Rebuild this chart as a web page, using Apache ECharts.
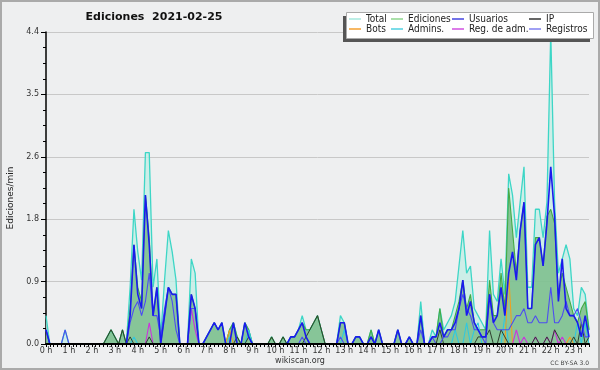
<!DOCTYPE html>
<html>
<head>
<meta charset="utf-8">
<title>Ediciones 2021-02-25</title>
<script src="https://cdn.jsdelivr.net/npm/echarts@6/dist/echarts.min.js"></script>
<style>
html, body { margin: 0; padding: 0; background: #eeeff0; }
#chart { width: 600px; height: 370px; }
</style>
</head>
<body>
<div id="chart"></div>
<script>
// one value every 10 minutes, 00:00 -> 23:40 (edits per minute)
const slots = [];
for (let i = 0; i < 143; i++) slots.push(Math.floor(i / 6) + ' h');

const total = [
    0.4,0,0,0,0,0.2, 0,0,0,0,0,0,
    0,0,0,0,0.1,0.2, 0.1,0,0.2,0,0.8,1.9,
    1.3,0.9,2.7,2.7,0.8,1.2, 0.1,0.9,1.6,1.3,0.9,0,
    0,0,1.2,1.0,0,0, 0.1,0.2,0.3,0.2,0.3,0,
    0.2,0.3,0.1,0,0.3,0.2, 0,0,0,0,0,0.1,
    0,0,0.1,0,0.1,0.1, 0.2,0.4,0.2,0.2,0.3,0.4,
    0.2,0,0,0,0,0.4, 0.3,0,0,0.1,0.1,0,
    0,0.2,0,0.2,0,0, 0,0,0.2,0,0,0.1,
    0,0,0.6,0,0,0.2, 0.1,0.5,0.2,0.3,0.4,0.6,
    1.1,1.6,1.0,1.1,0.5,0.4, 0.3,0.2,1.6,0.7,0.6,1.2,
    0.7,2.4,2.1,1.5,2.0,2.5, 0.8,0.8,1.9,1.9,1.5,2.0,
    4.4,2.0,1.0,1.2,1.4,1.2, 0.5,0.4,0.8,0.7,0.2
];
const ediciones = [
    0.2,0,0,0,0,0, 0,0,0,0,0,0,
    0,0,0,0,0.1,0.2, 0.1,0,0.2,0,0.5,1.4,
    0.8,0.6,2.1,1.5,0.4,0.8, 0,0.4,0.8,0.7,0.7,0,
    0,0,0.7,0.5,0,0, 0.1,0.2,0.3,0.2,0.3,0,
    0.2,0.3,0.1,0,0.3,0.2, 0,0,0,0,0,0.1,
    0,0,0.1,0,0.1,0.1, 0.2,0.3,0.2,0.2,0.3,0.4,
    0.2,0,0,0,0,0.3, 0.3,0,0,0.1,0.1,0,
    0,0.2,0,0.2,0,0, 0,0,0.2,0,0,0.1,
    0,0,0.4,0,0,0.1, 0.1,0.5,0.1,0.2,0.2,0.4,
    0.6,0.9,0.5,0.7,0.3,0.2, 0.2,0.2,0.9,0.4,0.4,1.0,
    0.5,2.2,1.6,1.0,1.6,2.0, 0.5,0.5,1.5,1.5,1.1,1.8,
    1.9,1.7,0.7,1.0,0.8,0.6, 0.4,0.3,0.5,0.6,0.2
];
const usuarios = [
    0.2,0,0,0,0,0, 0,0,0,0,0,0,
    0,0,0,0,0,0, 0,0,0,0,0.4,1.4,
    0.7,0.5,2.1,1.4,0.4,0.8, 0,0.4,0.8,0.7,0.7,0,
    0,0,0.7,0.5,0,0, 0.1,0.2,0.3,0.2,0.3,0,
    0,0.3,0,0,0.3,0.1, 0,0,0,0,0,0,
    0,0,0,0,0.1,0.1, 0.2,0.3,0.1,0,0,0,
    0,0,0,0,0,0.3, 0.3,0,0,0.1,0.1,0,
    0,0.1,0,0.2,0,0, 0,0,0.2,0,0,0.1,
    0,0,0.4,0,0,0.1, 0.1,0.3,0.1,0.2,0.2,0.3,
    0.5,0.9,0.4,0.6,0.3,0.2, 0.1,0.1,0.7,0.3,0.4,0.8,
    0.4,1.0,1.3,0.9,1.6,2.0, 0.5,0.5,1.4,1.5,1.1,1.7,
    2.5,1.8,0.6,1.2,0.5,0.4, 0.4,0.3,0.1,0.4,0.1
];
const ip = [
    0,0,0,0,0,0, 0,0,0,0,0,0,
    0,0,0,0,0.1,0.2, 0.1,0,0.2,0,0.1,0,
    0,0,0,0.1,0,0, 0,0,0,0,0,0,
    0,0,0,0,0,0, 0,0,0,0,0,0,
    0,0,0.1,0,0,0.1, 0,0,0,0,0,0.1,
    0,0,0.1,0,0,0, 0,0,0.1,0.2,0.3,0.4,
    0.2,0,0,0,0,0, 0,0,0,0,0,0,
    0,0.1,0,0,0,0, 0,0,0,0,0,0,
    0,0,0,0,0,0, 0,0.2,0,0,0,0,
    0,0,0,0,0,0.1, 0.1,0.1,0.2,0,0,0.2,
    0.1,0,0,0,0,0, 0,0,0.1,0,0,0.1,
    0,0.2,0.1,0,0,0, 0.1,0,0.3,0,0.1
];
const bots = [
    0,0,0,0,0,0, 0,0,0,0,0,0,
    0,0,0,0,0,0, 0,0,0,0,0,0,
    0,0,0,0,0,0, 0,0,0,0,0,0,
    0,0,0,0,0,0, 0,0,0,0,0,0,
    0.2,0,0,0,0,0, 0,0,0,0,0,0,
    0,0,0,0,0,0, 0,0,0,0,0,0,
    0,0,0,0,0,0, 0,0,0,0,0,0,
    0,0,0,0,0,0, 0,0,0,0,0,0,
    0,0,0,0,0,0, 0,0,0,0,0,0,
    0,0,0,0,0,0, 0,0,0,0,0,0,
    0,1.0,0,0,0,0, 0,0,0,0,0,0,
    0,0,0,0,0,0.1, 0,0,0,0,0
];
const admins = [
    0,0,0,0,0,0, 0,0,0,0,0,0,
    0,0,0,0,0,0, 0,0,0,0,0,0.1,
    0,0,0,0,0,0, 0,0,0,0,0,0,
    0,0,0,0,0,0, 0,0,0,0,0,0,
    0.1,0,0,0,0,0.2, 0,0,0,0,0,0,
    0,0,0,0,0,0, 0,0,0,0,0,0,
    0,0,0,0,0,0, 0.2,0,0,0,0,0,
    0,0,0,0,0,0, 0,0,0,0,0,0,
    0,0,0,0,0,0, 0,0,0,0,0,0.2,
    0,0,0.3,0,0.2,0.3, 0,0,0,0,0,0,
    0.4,0,0,0,0,0, 0,0,0,0,0,0,
    0,0,0,0,0,0, 0,0.3,0,0.3,0
];
const regAdm = [
    0,0,0,0,0,0, 0,0,0,0,0,0,
    0,0,0,0,0,0, 0,0,0,0,0,0,
    0,0,0,0.3,0,0, 0,0,0,0,0,0,
    0,0,0.5,0.2,0,0, 0,0,0,0,0,0,
    0,0,0,0,0,0, 0,0,0,0,0,0,
    0,0,0,0,0,0, 0,0,0,0,0,0,
    0,0,0,0,0,0, 0,0,0,0,0,0,
    0,0,0,0,0,0, 0,0,0,0,0,0,
    0,0,0,0,0,0, 0,0,0,0,0,0,
    0,0,0,0,0,0, 0,0,0,0,0,0,
    0,0,0,0.2,0,0.1, 0,0,0.1,0,0,0.1,
    0,0.2,0,0.1,0,0, 0,0,0,0,0
];
const registros = [
    0.2,0,0,0,0,0.2, 0,0,0,0,0,0,
    0,0,0,0,0,0, 0,0,0,0,0.3,0.5,
    0.6,0.4,0.6,1.0,0.4,0.4, 0.1,0.5,0.8,0.6,0.2,0,
    0,0,0.5,0.5,0,0, 0,0,0,0,0,0,
    0,0,0,0,0,0, 0,0,0,0,0,0,
    0,0,0,0,0,0, 0,0.1,0,0,0,0,
    0,0,0,0,0,0.1, 0,0,0,0,0,0,
    0,0,0,0,0,0, 0,0,0,0,0,0,
    0,0,0.2,0,0,0.1, 0,0,0.1,0.1,0.2,0.2,
    0.5,0.7,0.5,0.4,0.2,0.2, 0.1,0,0.7,0.3,0.2,0.2,
    0.2,0.2,0.3,0.4,0.4,0.5, 0.3,0.3,0.4,0.3,0.3,0.3,
    0.8,0.3,0.3,0.4,0.6,0.4, 0.4,0.5,0.3,0.1,0.1
];

const FONT = 'DejaVu Sans';
const chart = echarts.init(document.getElementById('chart'));

function line(name, data, color, width, area) {
    const s = {
        name: name,
        type: 'line',
        data: data,
        symbol: 'none',
        silent: true,
        animation: false,
        lineStyle: { color: color, width: width },
        itemStyle: { color: color }
    };
    if (area) s.areaStyle = area;
    return s;
}

// legend boxes: [name, icon colour, left, top]
const legendLayout = [
    ['Total', '#a6e8de', 349, 14],
    ['Ediciones', '#8ed68e', 391, 14],
    ['Usuarios', '#4545e0', 452, 14],
    ['IP', '#333333', 529, 14],
    ['Bots', '#f5a030', 349, 24],
    ['Admins.', '#4fd0e0', 391, 24],
    ['Reg. de adm.', '#d050e0', 452, 24],
    ['Registros', '#8080f0', 529, 24]
];

const option = {
    backgroundColor: '#eeeff0',
    animation: false,
    grid: { left: 46, right: 11, top: 32, bottom: 26 },
    legend: legendLayout.map(l => ({
        data: [{ name: l[0], itemStyle: { color: l[1], borderWidth: 0 } }],
        left: l[2],
        top: l[3],
        padding: 0,
        icon: 'rect',
        itemWidth: 12,
        itemHeight: 1.5,
        selectedMode: false,
        z: 20,
        textStyle: { fontFamily: "'DejaVu Sans Condensed', 'DejaVu Sans'", fontSize: 10, color: '#222', lineHeight: 10 }
    })),
    xAxis: {
        type: 'category',
        data: slots,
        boundaryGap: false,
        z: 5,
        axisLine: { lineStyle: { color: '#000', width: 2 } },
        axisTick: { interval: 0, length: 3, lineStyle: { color: '#000' } },
        axisLabel: {
            interval: idx => idx % 6 === 0,
            color: '#333',
            fontSize: 8,
            fontFamily: FONT,
            margin: 3
        },
        splitLine: { show: false }
    },
    yAxis: {
        type: 'value',
        min: 0,
        max: 4.4,
        interval: 0.88,
        axisLine: { show: true, lineStyle: { color: '#000', width: 1.5 } },
        axisTick: { show: true, length: 5, lineStyle: { color: '#000' } },
        minorTick: { show: true, splitNumber: 4, length: 3, lineStyle: { color: '#000' } },
        axisLabel: { formatter: v => v.toFixed(1), color: '#333', fontSize: 8, fontFamily: FONT, margin: 7 },
        splitLine: { lineStyle: { color: '#c8c8c8' } }
    },
    series: [
        line('Total', total, '#3dd6c6', 1.3, { color: '#c4eee6', opacity: 0.8 }),
        line('Ediciones', ediciones, '#44aa44', 1.1, { color: '#5cab68', opacity: 0.62 }),
        line('Admins.', admins, '#30c8e0', 1.1),
        line('Bots', bots, '#f0a020', 1.1),
        line('Reg. de adm.', regAdm, '#cc33dd', 1.1),
        line('IP', ip, '#2f3f2f', 1),
        line('Registros', registros, '#4d4df0', 1.1),
        line('Usuarios', usuarios, '#1a1aee', 1.6)
    ],
    graphic: [
        { type: 'rect', z: 1, shape: { x: 1, y: 1, width: 598, height: 368 },
          style: { fill: null, stroke: '#aaaaaa', lineWidth: 2 } },
        { type: 'text', z: 1, x: 154, y: 17,
          style: { text: 'Ediciones  2021-02-25', fontFamily: FONT, fontWeight: 'bold', fontSize: 11,
                   fill: '#111', align: 'center', verticalAlign: 'middle' } },
        { type: 'text', z: 1, x: 11, y: 198, rotation: Math.PI / 2,
          style: { text: 'Ediciones/min', fontFamily: FONT, fontSize: 9, fill: '#222',
                   align: 'center', verticalAlign: 'middle' } },
        { type: 'text', z: 1, x: 300, y: 361,
          style: { text: 'wikiscan.org', fontFamily: FONT, fontSize: 8, fill: '#333',
                   align: 'center', verticalAlign: 'middle' } },
        { type: 'text', z: 1, x: 589, y: 363,
          style: { text: 'CC BY-SA 3.0', fontFamily: FONT, fontSize: 6, fill: '#444',
                   align: 'right', verticalAlign: 'middle' } },
        { type: 'rect', z: 10, shape: { x: 343, y: 16, width: 247, height: 26 },
          style: { fill: '#555555' } },
        { type: 'rect', z: 11, shape: { x: 346.5, y: 12.5, width: 247, height: 26 },
          style: { fill: '#ffffff', stroke: '#aaaaaa', lineWidth: 1 } }
    ]
};

chart.setOption(option);
</script>
</body>
</html>
